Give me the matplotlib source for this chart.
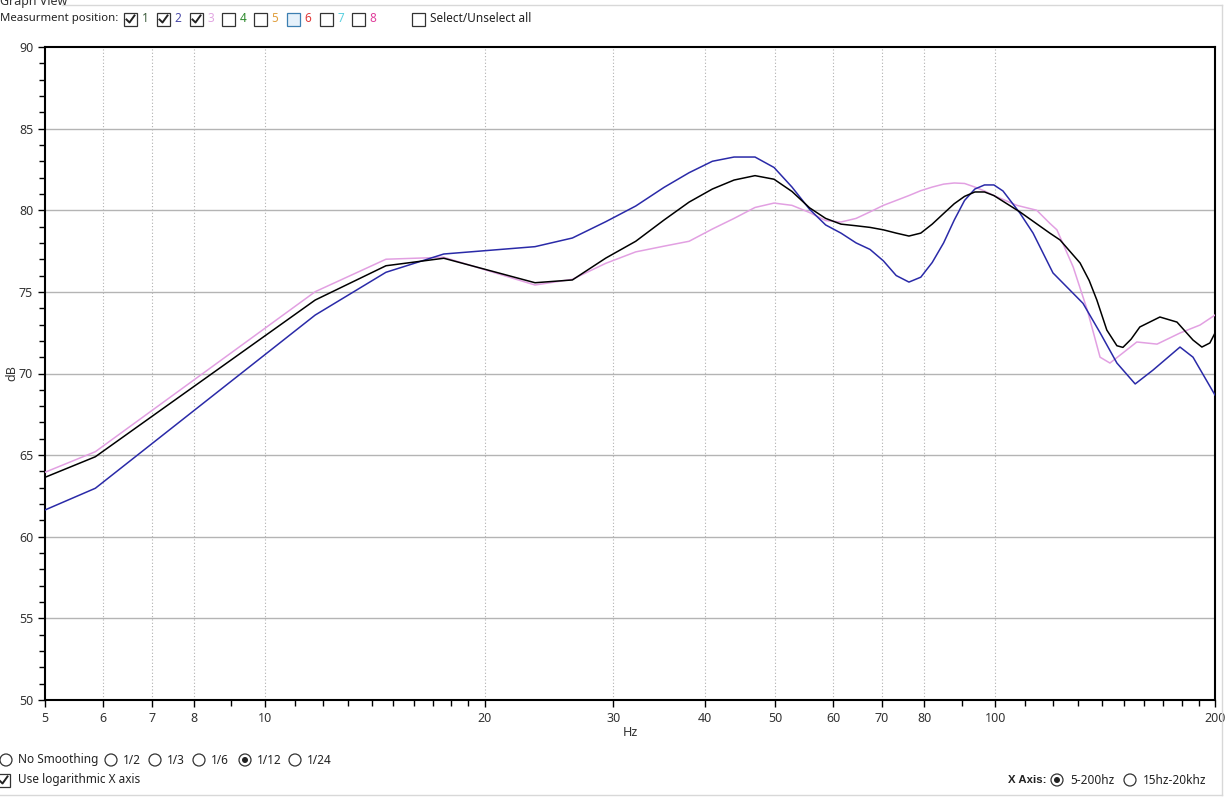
import matplotlib
matplotlib.use("Agg")
import matplotlib.pyplot as plt
from matplotlib.patches import Rectangle, Ellipse
from matplotlib.lines import Line2D
from matplotlib.ticker import FixedLocator, NullFormatter

plt.rcParams['font.family'] = ['Noto Sans', 'DejaVu Sans']

# position 1 (black)
freq_1 = [5, 5.86, 11.72, 14.65, 17.58, 23.44, 26.37, 29.3, 32.2, 35.2, 38.1, 41.0, 43.9,
          46.9, 49.8, 52.7, 55.7, 58.6, 61.5, 64.5, 67.4, 70.3, 73.2, 76.2, 79.1, 82.0,
          85.0, 87.9, 90.8, 93.8, 96.7, 99.6, 108.1, 118.8, 122.7, 130.7, 134.5, 137.8, 142.2,
          146.8, 149.6, 153.5, 157.8, 168.1, 177.4, 186.6, 191.9, 196.8, 200]
db_1 = [63.64, 64.90, 74.5, 76.6, 77.06, 75.56, 75.73, 77.07, 78.1, 79.4, 80.5, 81.3, 81.85,
        82.12, 81.9, 81.15, 80.15, 79.5, 79.15, 79.05, 78.95, 78.8, 78.6, 78.42, 78.6, 79.15,
        79.8, 80.4, 80.85, 81.12, 81.12, 80.9, 79.9, 78.6, 78.18, 76.77, 75.7, 74.5, 72.66,
        71.7, 71.6, 72.1, 72.85, 73.46, 73.15, 72.05, 71.62, 71.87, 72.48]

# position 2 (blue)
freq_2 = [5, 5.86, 11.72, 14.65, 17.58, 23.44, 26.37, 29.3, 32.2, 35.2, 38.1, 41.0, 43.9,
          46.9, 49.8, 52.7, 55.7, 58.6, 61.5, 64.5, 67.4, 70.3, 73.2, 76.2, 79.1, 82.0,
          85.0, 87.9, 90.8, 93.8, 96.7, 99.6, 102.5, 108.1, 112.7, 120.0, 131.9, 139.2,
          146.8, 155.5, 164.4, 179.1, 186.6, 200]
db_2 = [61.64, 62.97, 73.58, 76.2, 77.32, 77.77, 78.3, 79.3, 80.26, 81.4, 82.3, 83.0, 83.26,
        83.26, 82.62, 81.42, 80.06, 79.1, 78.6, 78.0, 77.6, 76.9, 76.0, 75.6, 75.9, 76.8,
        78.0, 79.4, 80.6, 81.3, 81.55, 81.55, 81.18, 79.83, 78.6, 76.16, 74.3, 72.5,
        70.64, 69.36, 70.2, 71.62, 71.0, 68.68]

# position 3 (pink)
freq_3 = [5, 5.86, 11.72, 14.65, 17.58, 23.44, 26.37, 29.3, 32.2, 35.2, 38.1, 41.0, 43.9,
          46.9, 49.8, 52.7, 55.7, 58.6, 61.5, 64.5, 67.4, 70.3, 73.2, 76.2, 79.1, 82.0,
          85.0, 87.9, 90.8, 93.8, 96.7, 99.6, 107.1, 114.0, 118.8, 121.5, 127.9, 133.7,
          139.2, 143.6, 149.6, 156.3, 166.6, 179.1, 190.8, 200]
db_3 = [63.95, 65.21, 75.01, 77.0, 77.12, 75.42, 75.77, 76.75, 77.45, 77.8, 78.1, 78.85, 79.5,
        80.17, 80.44, 80.3, 79.86, 79.37, 79.28, 79.5, 79.9, 80.3, 80.6, 80.9, 81.2, 81.42,
        81.6, 81.67, 81.64, 81.42, 81.18, 80.9, 80.3, 80.0, 79.2, 78.8, 76.52, 73.89,
        71.0, 70.64, 71.26, 71.93, 71.8, 72.48, 72.97, 73.58]

x_major = [5, 6, 7, 8, 10, 20, 30, 40, 50, 60, 70, 80, 100, 200]
x_minor = [9, 11, 12, 13, 14, 15, 16, 17, 18, 19, 90,
           110, 120, 130, 140, 150, 160, 170, 180, 190]
x_grid = [6, 7, 8, 10, 20, 30, 40, 50, 60, 70, 80, 100]
y_major = [50, 55, 60, 65, 70, 75, 80, 85, 90]

positions = ['1', '2', '3', '4', '5', '6', '7', '8']
pos_colors = ['#3a5a3a', '#4a4aa8', '#e2a6e2', '#2e8b2e', '#e0a040', '#e03838', '#5cd0e0', '#e0409c']
pos_checked = [True, True, True, False, False, False, False, False]
smoothing = ['No Smoothing', '1/2', '1/3', '1/6', '1/12', '1/24']

W, H = 1228, 799
fig = plt.figure(figsize=(W / 100, H / 100), dpi=100)
ax = fig.add_axes([45 / W, 1 - 700 / H, 1170 / W, 653 / H])


def fx(px):
    return px / W


def fy(py):
    return 1 - py / H


ax.set_xscale('log')
ax.set_xlim(5, 200)
ax.set_ylim(50, 90)

for g in x_grid:
    ax.axvline(g, color='#b0b0b0', lw=0.8, ls=(0, (1, 2)), zorder=1)
for g in y_major[1:-1]:
    ax.axhline(g, color='#b4b4b4', lw=1.0, zorder=1)

ax.plot(freq_3, db_3, color='#e2a0e2', lw=1.1, zorder=3)
ax.plot(freq_2, db_2, color='#2a2aa8', lw=1.1, zorder=4)
ax.plot(freq_1, db_1, color='#000000', lw=1.1, zorder=5)

ax.xaxis.set_major_locator(FixedLocator(x_major))
ax.xaxis.set_minor_locator(FixedLocator(x_minor))
ax.xaxis.set_minor_formatter(NullFormatter())
ax.set_xticklabels([str(v) for v in x_major])
ax.yaxis.set_major_locator(FixedLocator(y_major))
ax.yaxis.set_minor_locator(FixedLocator(list(range(50, 91))))
ax.tick_params(which='both', direction='out', length=5, width=1, colors='black',
               labelcolor='#333333', labelsize=9)
ax.tick_params(axis='y', which='minor', length=4)
ax.tick_params(axis='x', which='minor', length=4)
for s in ax.spines.values():
    s.set_linewidth(1.5)
    s.set_color('black')

fig.text(fx(630), fy(733), 'Hz', ha='center', va='center', fontsize=9, color='#333333')
fig.text(fx(12), fy(373), 'dB', ha='center', va='center', rotation=90, fontsize=9, color='#333333')

# group box
fig.text(fx(0), fy(2), 'Graph View', ha='left', va='center', fontsize=9, color='#333333')
fig.add_artist(Line2D([fx(62), fx(1222)], [fy(5), fy(5)], color='#d8d8d8', lw=1))
fig.add_artist(Line2D([fx(1222), fx(1222)], [fy(5), fy(795)], color='#d8d8d8', lw=1))
fig.add_artist(Line2D([fx(0), fx(1222)], [fy(795), fy(795)], color='#d8d8d8', lw=1))


def checkbox(x0, yc, checked, face='white', edge='#333333'):
    fig.add_artist(Rectangle((fx(x0), fy(yc + 6.5)), 13 / W, 13 / H, transform=fig.transFigure,
                             facecolor=face, edgecolor=edge, lw=0.9))
    if checked:
        fig.add_artist(Line2D([fx(x0 + 2.5), fx(x0 + 5.5), fx(x0 + 10.5)],
                              [fy(yc + 0.5), fy(yc + 3.5), fy(yc - 3.5)],
                              color='#222222', lw=1.4))


def radio(xc, yc, selected):
    fig.add_artist(Ellipse((fx(xc), fy(yc)), 12 / W, 12 / H, transform=fig.transFigure,
                           facecolor='white', edgecolor='#333333', lw=0.9))
    if selected:
        fig.add_artist(Ellipse((fx(xc), fy(yc)), 6 / W, 6 / H, transform=fig.transFigure,
                               facecolor='#222222', edgecolor='none'))


fig.text(fx(0), fy(19), 'Measurment position:', ha='left', va='center', fontsize=8.2, color='#222222')
box_x = [124, 157, 190, 222, 254, 287, 320, 352]
for i, p in enumerate(positions):
    if p == '6':
        checkbox(box_x[i], 19, False, face='#e5f1fb', edge='#3c7fb1')
    else:
        checkbox(box_x[i], 19, pos_checked[i])
    fig.text(fx(box_x[i] + 21), fy(19), p, ha='center', va='center', fontsize=8.5, color=pos_colors[i])
checkbox(412, 19, False)
fig.text(fx(430), fy(19), 'Select/Unselect all', ha='left', va='center', fontsize=8.5, color='#222222')

radio_x = [6, 111, 155, 199, 245, 295]
for i, s in enumerate(smoothing):
    radio(radio_x[i], 760, s == '1/12')
    fig.text(fx(radio_x[i] + 12), fy(760), s, ha='left', va='center', fontsize=8.5, color='#222222')
checkbox(-3, 780, True)
fig.text(fx(18), fy(780), 'Use logarithmic X axis', ha='left', va='center', fontsize=8.5, color='#222222')

fig.text(fx(1008), fy(780), 'X Axis:', ha='left', va='center', fontsize=8.2, color='#222222',
         fontweight='bold', family=['Liberation Sans', 'DejaVu Sans'])
radio(1057, 780, True)
fig.text(fx(1070), fy(780), '5-200hz', ha='left', va='center', fontsize=8.5, color='#222222')
radio(1130, 780, False)
fig.text(fx(1143), fy(780), '15hz-20khz', ha='left', va='center', fontsize=8.5, color='#222222')

fig.savefig('out.png', dpi=100)
